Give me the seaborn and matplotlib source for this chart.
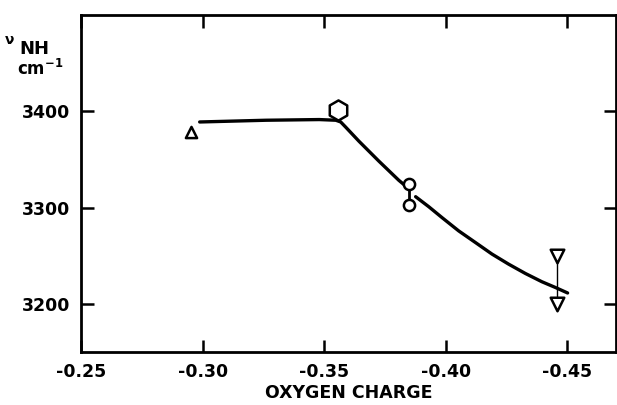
import matplotlib
matplotlib.use("Agg")
import matplotlib.pyplot as plt
import seaborn as sns
import pandas as pd

# ------------------------------------------------------------------ #
# NH stretching frequency against oxygen charge
# ------------------------------------------------------------------ #

# smooth curve, drawn in two pieces (gap next to the circles)
curve1_x = [-0.2988, -0.3261, -0.3480, -0.3548, -0.3568, -0.3589, -0.3643,
            -0.3725, -0.3807, -0.3835]
curve1_y = [3388.9, 3390.7, 3391.4, 3390.7, 3388.9, 3383.4, 3368.9,
            3348.2, 3328.3, 3322.4]
curve2_x = [-0.3876, -0.3930, -0.3985, -0.4053, -0.4122, -0.4190, -0.4258,
            -0.4327, -0.4395, -0.4450, -0.4501]
curve2_y = [3311.3, 3300.9, 3289.5, 3275.8, 3263.7, 3251.7, 3241.3,
            3231.6, 3223.0, 3217.1, 3211.3]

# measured points
tri_x, tri_y = [-0.2954], [3378.6]
hex_x, hex_y = [-0.3555], [3401.8]
circ_x, circ_y = [-0.3850, -0.3850], [3324.1, 3302.7]
dtri_x, dtri_y = [-0.4456, -0.4456], [3249.2, 3199.9]

x_ticks = [-0.25, -0.30, -0.35, -0.40, -0.45]
x_labels = ["-0.25", "-0.30", "-0.35", "-0.40", "-0.45"]
y_ticks = [3200, 3300, 3400]

sns.set_style("ticks")
plt.rcParams["font.family"] = ["DejaVu Sans"]
plt.rcParams["font.weight"] = "bold"
for key in ["text.color", "axes.labelcolor", "xtick.color", "ytick.color", "axes.edgecolor"]:
    plt.rcParams[key] = "black"

fig = plt.figure(figsize=(6.17, 4.05), dpi=100)
ax = fig.add_axes([81 / 617, 53 / 405, 535 / 617, 337 / 405])

df1 = pd.DataFrame({"x": curve1_x, "y": curve1_y})
df2 = pd.DataFrame({"x": curve2_x, "y": curve2_y})
sns.lineplot(data=df1, x="x", y="y", sort=False, estimator=None, color="black", lw=2.4, ax=ax)
sns.lineplot(data=df2, x="x", y="y", sort=False, estimator=None, color="black", lw=2.4, ax=ax)

# vertical bars joining the paired points
ax.vlines(circ_x[0], circ_y[1], circ_y[0], color="black", lw=2)
ax.vlines(dtri_x[0], dtri_y[1], dtri_y[0], color="black", lw=1)

mk = dict(facecolor="white", edgecolor="black", linewidth=1.8, zorder=5, ax=ax, legend=False)
sns.scatterplot(x=tri_x, y=tri_y, marker="^", s=65, **mk)
sns.scatterplot(x=hex_x, y=hex_y, marker="h", s=210, **mk)
sns.scatterplot(x=circ_x, y=circ_y, marker="o", s=65, **mk)
sns.scatterplot(x=dtri_x, y=dtri_y, marker="v", s=95, **mk)

ax.set_xlim(-0.25, -0.47)
ax.set_ylim(3150, 3500)
ax.set_xticks(x_ticks)
ax.set_xticklabels(x_labels)
ax.set_yticks(y_ticks)
ax.tick_params(direction="in", length=9, width=1.8, top=True, right=True,
               labelsize=12.5, pad=8)
for lab in ax.get_xticklabels() + ax.get_yticklabels():
    lab.set_fontweight("bold")
for s in ax.spines.values():
    s.set_linewidth(2)

ax.set_xlabel("OXYGEN CHARGE", fontsize=12.5, fontweight="bold", labelpad=2)
ax.set_ylabel("")

# y-axis caption in the top-left corner
fig.text(10 / 617, 1 - 40 / 405, "ν", fontsize=10, ha="center", va="center")
fig.text(34 / 617, 1 - 49 / 405, "NH", fontsize=13, fontweight="bold", ha="center", va="center")
fig.text(40 / 617, 1 - 69 / 405, "cm$^{-1}$", fontsize=12, fontweight="bold", ha="center", va="center")

fig.savefig("out.png", dpi=100)
